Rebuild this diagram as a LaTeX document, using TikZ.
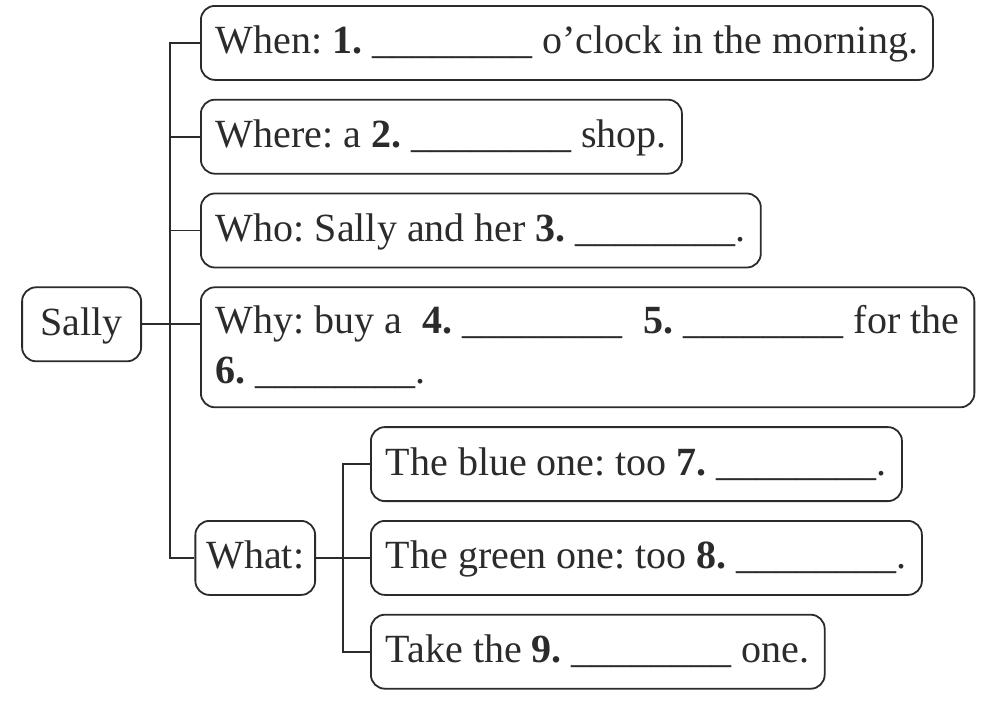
\documentclass[tikz,border=0pt]{standalone}
\usepackage{fontspec}
\setmainfont{Liberation Serif}
\usepackage{tikz}
\usetikzlibrary{positioning}
\definecolor{ink}{HTML}{2b2b2b}
\newcommand{\blankline}{\_\_\_\_\_\_\_\_}
\frenchspacing

\begin{document}
\begin{tikzpicture}[
  x=1pt, y=-1pt,
  node distance=18pt,
  card/.style={rectangle, rounded corners=14pt, draw=ink, line width=1.8pt,
    text=ink, font=\fontsize{40}{50}\selectfont, inner xsep=15pt, inner ysep=0pt,
    minimum height=74pt, text height=30pt, text depth=8pt},
  link/.style={draw=ink, line width=1.8pt}
]
\useasboundingbox (0,0) rectangle (987,704);
\node[card, anchor=north west] (when) at (200,5)
  {When: \textbf{1.} \blankline{} o’clock in the morning.};
\node[card, below=of when.south west, anchor=north west] (where)
  {Where: a \textbf{2.} \blankline{} shop.};
\node[card, below=of where.south west, anchor=north west] (who)
  {Who: Sally and her \textbf{3.} \blankline.};
\node[card, below=of who.south west, anchor=north west, align=left,
  text height={}, text depth={}, minimum height=120pt] (why)
  {Why: buy a\hspace{20pt}\textbf{4.} \blankline\hspace{21pt}\textbf{5.} \blankline{} for the\\
   \textbf{6.} \blankline.};
\node[card, below=of why.south west, anchor=north west, xshift=170pt] (blue)
  {The blue one: too \textbf{7.} \blankline.};
\node[card, below=of blue.south west, anchor=north west] (green)
  {The green one: too \textbf{8.} \blankline.};
\node[card, below=of green.south west, anchor=north west] (take)
  {Take the \textbf{9.} \blankline{} one.};
\node[card, left=54pt of green, inner xsep=11pt] (what) {What:};
\node[card, left=58pt of why.north west, anchor=north east, minimum width=119pt] (sally) {Sally};
\coordinate (spine) at (170,0);
\coordinate (fork) at (343,0);
\draw[link] (when.west) -- (spine |- when.west) -- (spine |- what.west) -- (what.west);
\draw[link] (sally.east) -- (sally.east -| why.west);
\draw[link] (spine |- where.west) -- (where.west);
\draw[link] (spine |- who.west) -- (who.west);
\draw[link] (blue.west) -- (fork |- blue.west) -- (fork |- take.west) -- (take.west);
\draw[link] (what.east) -- (green.west);
\end{tikzpicture}
\end{document}
